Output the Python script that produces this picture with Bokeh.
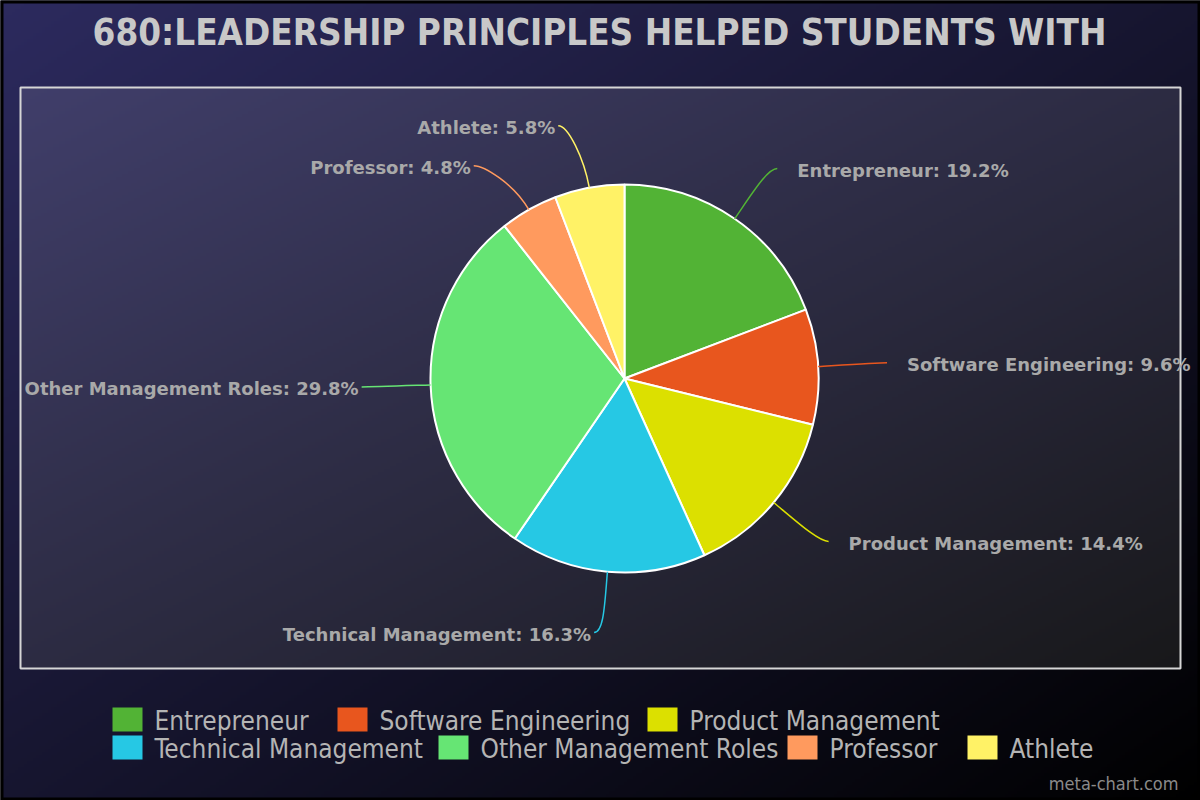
import numpy as np
from bokeh.plotting import figure
from bokeh.models import Range1d, ColumnDataSource
from bokeh.core.properties import value
from bokeh.embed import file_html
from bokeh.resources import INLINE

# ---------------- data ----------------
title_text = "680:LEADERSHIP PRINCIPLES HELPED STUDENTS WITH"
categories = ["Entrepreneur", "Software Engineering", "Product Management",
              "Technical Management", "Other Management Roles", "Professor", "Athlete"]
percentages = [19.2, 9.6, 14.4, 16.3, 29.8, 4.8, 5.8]
colors = ["#52b335", "#e8561e", "#dce000", "#26c8e4", "#66e574", "#ff9a5e", "#fff266"]
watermark = "meta-chart.com"

# ---------------- layout (pixels, y downwards) ----------------
W, H = 1200, 800
def Y(y):
    return H - np.asarray(y, dtype=float)

CX, CY, R = 624, 378, 194
R_ELBOW = 255
label_nudge = [(0, 0), (0, 0), (0, 0), (0, 0), (0, 0), (-17, 9), (-12, -2)]
legend_swatch_x = [112, 337, 647, 112, 438, 787, 967]
legend_row = [0, 0, 0, 1, 1, 1, 1]
legend_row_y = [719, 747]

p = figure(width=W, height=H, x_range=Range1d(0, W), y_range=Range1d(0, H),
           output_backend="svg", toolbar_location=None, min_border=0)
p.axis.visible = False
p.grid.visible = False
p.outline_line_color = None
p.background_fill_color = "#000000"
p.border_fill_color = "#000000"


def gradient(w, h, c0, c1, res=3):
    nx, ny = max(2, w // res), max(2, h // res)
    xs = np.linspace(0, 1, nx)
    ys = np.linspace(0, 1, ny)
    t = (xs[None, :] + ys[:, None]) / 2.0  # row 0 = top
    c0 = np.array(c0, dtype=float)
    c1 = np.array(c1, dtype=float)
    rgb = c0[None, None, :] * (1 - t[..., None]) + c1[None, None, :] * t[..., None]
    rgb = np.clip(np.round(rgb), 0, 255).astype(np.uint32)
    img = (np.uint32(255) << np.uint32(24)) | (rgb[..., 2] << np.uint32(16)) | (rgb[..., 1] << np.uint32(8)) | rgb[..., 0]
    return np.flipud(img).astype(np.uint32)

# outer background
p.image_rgba(image=[gradient(W, H, (44, 42, 94), (0, 0, 0))], x=0, y=0, dw=W, dh=H)
# inner panel
PL, PT, PR, PB = 20, 87, 1180, 668
p.image_rgba(image=[gradient(PR - PL, PB - PT, (64, 62, 106), (24, 24, 26))],
             x=PL, y=float(Y(PB)), dw=PR - PL, dh=PB - PT)
p.quad(left=PL, right=PR, top=float(Y(PT)), bottom=float(Y(PB)),
       fill_color=None, line_color="#d6d6d6", line_width=2)
# outer black frame
p.quad(left=0, right=W, top=H, bottom=0, fill_color=None, line_color="#000000", line_width=6)

# ---------------- title ----------------
p.text(x=[W / 2 - 1], y=[float(Y(32))], text=[title_text], text_align="center",
       text_baseline="middle", text_font=value("DejaVu Sans Condensed"),
       text_font_style="bold", text_font_size="36.5px", text_color="#c8c8c8")

# ---------------- pie ----------------
frac = np.array(percentages) / np.sum(percentages)
cum = np.cumsum(frac)
starts = np.concatenate([[0.0], cum[:-1]])
src = ColumnDataSource(dict(
    cat=categories, color=colors,
    start=np.pi / 2 - 2 * np.pi * starts,
    end=np.pi / 2 - 2 * np.pi * cum,
))
p.wedge(x=CX, y=float(Y(CY)), radius=R, start_angle="start", end_angle="end",
        direction="clock", fill_color="color", line_color="white", line_width=2,
        source=src)

# ---------------- labels + connectors ----------------
theta = 2 * np.pi * (starts + cum) / 2
s, c = np.sin(theta), np.cos(theta)
side = np.where(s >= 0, 1, -1)
ex, ey = CX + R * s, CY - R * c
mx, my = CX + (R + 30) * s, CY - (R + 30) * c
bx, by = CX + R_ELBOW * s, CY - R_ELBOW * c
nx_ = np.array([n[0] for n in label_nudge])
ny_ = np.array([n[1] for n in label_nudge])
endx = bx + side * 8 + nx_
endy = by + ny_
ctrl1x = endx - side * 10
ctrl1y = endy

p.bezier(x0=ex, y0=Y(ey), x1=endx, y1=Y(endy), cx0=mx, cy0=Y(my),
         cx1=ctrl1x, cy1=Y(ctrl1y), line_color=colors, line_width=1.5)

labels = [f"{cat}: {pct}%" for cat, pct in zip(categories, percentages)]
tx = endx + np.where(side > 0, 20, -3)
for i in range(len(labels)):
    p.text(x=[tx[i]], y=[float(Y(endy[i] + 2))], text=[labels[i]],
           text_align="left" if side[i] > 0 else "right", text_baseline="middle",
           text_font=value("DejaVu Sans"), text_font_style="bold",
           text_font_size="18px", text_color="#a9a9a9")

# ---------------- legend ----------------
lx = np.array(legend_swatch_x, dtype=float)
ly = np.array([legend_row_y[r] for r in legend_row], dtype=float)
p.rect(x=lx + 15, y=Y(ly), width=30, height=24, fill_color=colors, line_color=None)
p.text(x=lx + 42, y=Y(ly + 1), text=categories, text_align="left", text_baseline="middle",
       text_font=value("DejaVu Sans Condensed"), text_font_size="26px", text_color="#b4b4b4")

# ---------------- watermark ----------------
p.text(x=[1178], y=[float(Y(783))], text=[watermark], text_align="right",
       text_baseline="middle", text_font=value("DejaVu Sans Condensed"),
       text_font_size="18px", text_color="#8a8a8a")

open("out.html", "w").write(file_html(p, INLINE))
